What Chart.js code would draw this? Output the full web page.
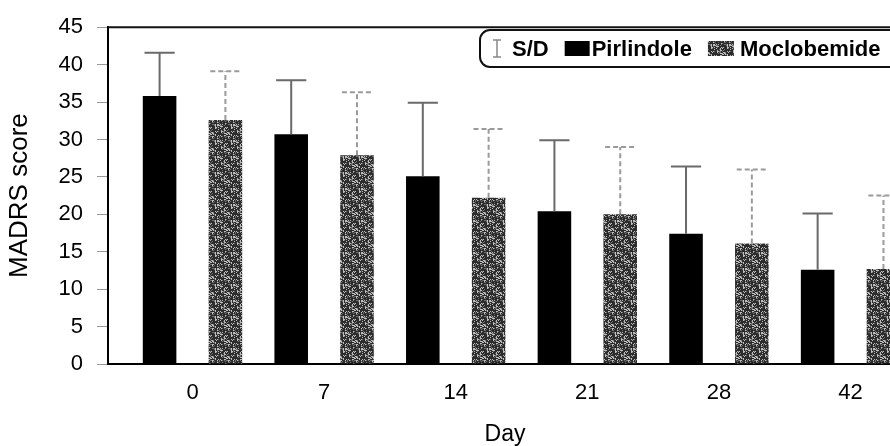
<!DOCTYPE html>
<html>
<head>
<meta charset="utf-8">
<title>MADRS score</title>
<script src="https://cdn.jsdelivr.net/npm/chart.js@4.4.1/dist/chart.umd.min.js"></script>
<style>
  html, body { margin: 0; padding: 0; background: #fff; }
  #marco { width: 890px; height: 446px; overflow: hidden; }
</style>
</head>
<body>
<div id="marco"><canvas id="grafico" width="902" height="446"></canvas></div>
<script>
// datos
var dias = ['0', '7', '14', '21', '28', '42'];
var pirlindole = [35.8, 30.7, 25.1, 20.4, 17.4, 12.6];
var pirlindoleSD = [5.8, 7.2, 9.8, 9.5, 9.0, 7.5];
var moclobemide = [32.6, 27.9, 22.2, 20.0, 16.1, 12.7];
var moclobemideSD = [6.5, 8.4, 9.2, 9.0, 9.9, 9.8];
var ticksY = [0, 5, 10, 15, 20, 25, 30, 35, 40, 45];

Chart.defaults.font.family = '"Liberation Sans", Arial, sans-serif';
Chart.defaults.color = '#000';

// textura gris para moclobemide (patron fijo, tipo trama de escaner)
function crearTextura() {
    var n = 16;
    var c = document.createElement('canvas');
    c.width = n;
    c.height = n;
    var cx = c.getContext('2d');
    cx.fillStyle = '#2c2c2c';
    cx.fillRect(0, 0, n, n);
    for (var x = 0; x < n; x++) {
        for (var y = 0; y < n; y++) {
            var h = Math.sin(x * 12.9898 + y * 78.233) * 43758.5453;
            h = h - Math.floor(h);
            if (h < 0.2) {
                cx.fillStyle = '#bdbdbd';
                cx.fillRect(x, y, 1, 1);
            } else if (h < 0.36) {
                cx.fillStyle = '#6e6e6e';
                cx.fillRect(x, y, 1, 1);
            }
        }
    }
    return cx.createPattern(c, 'repeat');
}
var textura = crearTextura();

function aPuntos(lista) {
    return lista.map(function (v, i) { return { x: i, y: v }; });
}

var errores = [pirlindoleSD, moclobemideSD];
var estiloError = [
    { color: '#6a6a6a', dash: [] },
    { color: '#9a9a9a', dash: [5, 3] }
];

// barras de error (solo hacia arriba) y marco superior
var pluginExtras = {
    id: 'extras',
    afterDatasetsDraw: function (chart) {
        var ctx = chart.ctx;
        var ejeY = chart.scales.y;
        chart.data.datasets.forEach(function (ds, i) {
            var meta = chart.getDatasetMeta(i);
            ctx.save();
            ctx.strokeStyle = estiloError[i].color;
            ctx.lineWidth = 2;
            ctx.setLineDash(estiloError[i].dash);
            meta.data.forEach(function (barra, j) {
                var arriba = ejeY.getPixelForValue(ds.data[j].y + errores[i][j]);
                var media = barra.width * 0.45;
                ctx.beginPath();
                ctx.moveTo(barra.x, barra.y);
                ctx.lineTo(barra.x, arriba);
                ctx.moveTo(barra.x - media, arriba);
                ctx.lineTo(barra.x + media, arriba);
                ctx.stroke();
            });
            ctx.restore();
        });
    },
    afterDraw: function (chart) {
        var ctx = chart.ctx;
        var area = chart.chartArea;
        ctx.save();
        // linea superior del marco
        ctx.strokeStyle = '#111';
        ctx.lineWidth = 2;
        ctx.beginPath();
        ctx.moveTo(area.left, area.top);
        ctx.lineTo(area.right, area.top);
        ctx.stroke();

        // leyenda con borde redondeado
        var x0 = 480, y0 = 30, alto = 37, ancho = 420;
        ctx.lineWidth = 2;
        ctx.beginPath();
        ctx.roundRect(x0, y0, ancho, alto, 10);
        ctx.stroke();

        ctx.font = 'bold 22px "Liberation Sans", Arial, sans-serif';
        ctx.textBaseline = 'alphabetic';
        ctx.fillStyle = '#000';
        var base = y0 + 26;
        var x = x0 + 17;

        // icono S/D
        ctx.strokeStyle = '#888';
        ctx.lineWidth = 1.5;
        ctx.beginPath();
        ctx.moveTo(x, y0 + 10); ctx.lineTo(x, y0 + 27);
        ctx.moveTo(x - 4, y0 + 10); ctx.lineTo(x + 4, y0 + 10);
        ctx.moveTo(x - 4, y0 + 27); ctx.lineTo(x + 4, y0 + 27);
        ctx.stroke();
        x += 15;
        ctx.fillText('S/D', x, base);
        x += ctx.measureText('S/D').width + 16;

        ctx.fillStyle = '#000';
        ctx.fillRect(x, y0 + 11, 25, 15);
        x += 27;
        ctx.fillText(chart.data.datasets[0].label, x, base);
        x += ctx.measureText(chart.data.datasets[0].label).width + 16;

        ctx.fillStyle = textura;
        ctx.fillRect(x, y0 + 11, 26, 15);
        x += 32;
        ctx.fillStyle = '#000';
        ctx.fillText(chart.data.datasets[1].label, x, base);
        ctx.restore();
    }
};

var lienzo = document.getElementById('grafico');
var grafico = new Chart(lienzo, {
    type: 'bar',
    data: {
        datasets: [
            {
                label: 'Pirlindole',
                data: aPuntos(pirlindole),
                backgroundColor: '#000',
                categoryPercentage: 1.0,
                barPercentage: 0.51
            },
            {
                label: 'Moclobemide',
                data: aPuntos(moclobemide),
                backgroundColor: textura,
                categoryPercentage: 1.0,
                barPercentage: 0.51
            }
        ]
    },
    options: {
        responsive: false,
        animation: false,
        layout: { padding: { top: 22, left: 0, right: 0, bottom: 0 } },
        plugins: {
            legend: { display: false },
            tooltip: { enabled: false }
        },
        scales: {
            x: {
                type: 'linear',
                offset: false,
                min: -0.642,
                max: 5.391,
                afterFit: function (s) { s.height = 82; },
                afterBuildTicks: function (s) {
                    s.ticks = dias.map(function (d, i) { return { value: i }; });
                },
                grid: { display: false, drawTicks: false },
                border: { display: true, color: '#000', width: 2 },
                ticks: {
                    autoSkip: false,
                    maxRotation: 0,
                    padding: 16,
                    font: { size: 22 },
                    callback: function (v) { return dias[v]; }
                },
                title: {
                    display: true,
                    text: 'Day',
                    font: { size: 23, lineHeight: 1 },
                    padding: 0
                }
            },
            y: {
                min: 0,
                max: 45,
                afterFit: function (s) { s.width = 108; },
                afterBuildTicks: function (s) {
                    s.ticks = ticksY.map(function (v) { return { value: v }; });
                },
                grid: { drawOnChartArea: false, color: '#999', tickLength: 11 },
                border: { display: true, color: '#000', width: 2 },
                ticks: {
                    padding: 14,
                    font: { size: 22 }
                },
                title: {
                    display: true,
                    text: 'MADRS score',
                    font: { size: 26, lineHeight: 1 },
                    padding: { top: 7, bottom: 0 }
                }
            }
        }
    },
    plugins: [pluginExtras]
});
</script>
</body>
</html>
